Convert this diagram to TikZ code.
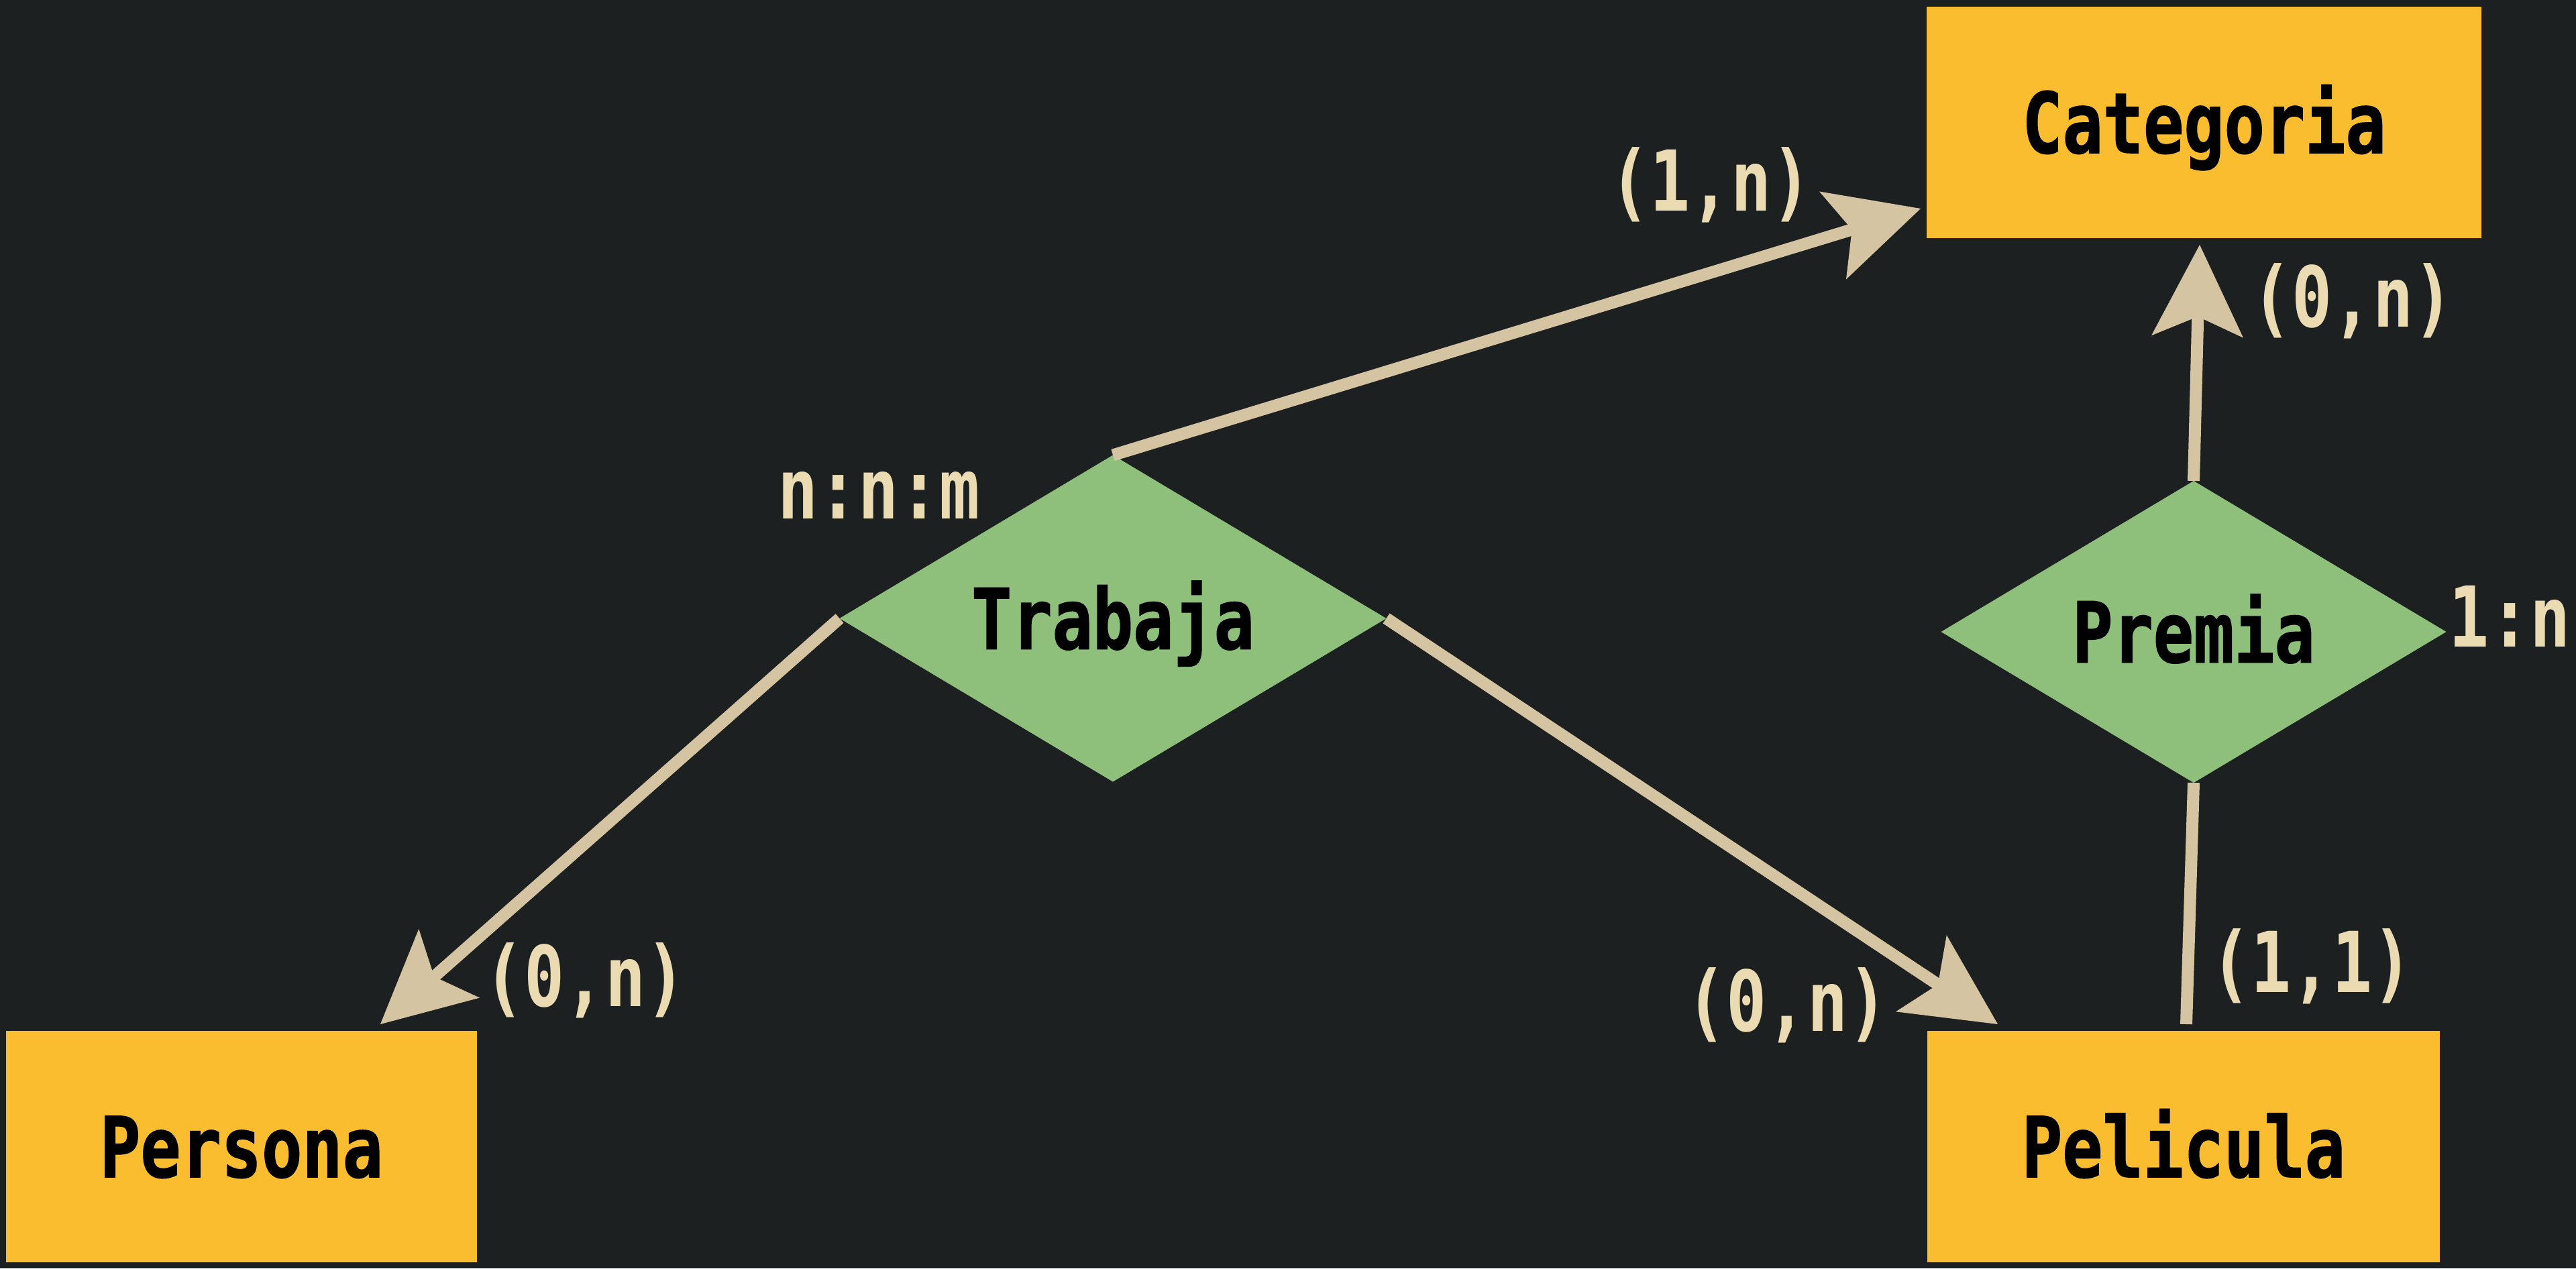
\documentclass[tikz,border=0pt]{standalone}
\usepackage{fontspec}
\setmonofont[FakeStretch=0.8]{DejaVu Sans Mono}
\newfontfamily\rotulo[FakeStretch=0.8, FakeBold=1.2]{DejaVu Sans Mono Bold}
\usetikzlibrary{shapes.geometric,arrows.meta}
\definecolor{fondo}{HTML}{1D2021}
\definecolor{amarillo}{HTML}{FABD2F}
\definecolor{verde}{HTML}{8EC07C}
\definecolor{linea}{HTML}{D5C4A1}
\definecolor{crema}{HTML}{EBDBB2}
\begin{document}
\begin{tikzpicture}[
            entidad/.style={rectangle, fill=amarillo, text=black, inner sep=0pt, outer sep=0pt,
                minimum height=3.45cm, text height=0.91cm, text depth=0pt,
                font=\rotulo\fontsize{35.6pt}{40pt}\selectfont},
            relacion/.style={diamond, fill=verde, text=black, inner sep=0pt, outer sep=0pt, aspect=1.67,
                text height=0.91cm, text depth=0pt,
                font=\rotulo\fontsize{35.6pt}{40pt}\selectfont},
            card/.style={anchor=base, inner sep=0pt, text=crema,
                font=\ttfamily\bfseries\fontsize{35.6pt}{40pt}\selectfont},
            conn/.style={draw=linea, line width=0.18cm},
            flecha/.style={conn, -{Stealth[length=1.37cm, width=1.37cm, inset=0.30cm, line width=0pt]}}
        ]
            \fill[fondo] (0,0) rectangle (38.4,-18.91);

            \node[entidad, minimum width=8.27cm] (categoria) at (32.855, -1.825) {Categoria};
            \node[entidad, minimum width=7.02cm] (persona) at (3.60, -17.095) {Persona};
            \node[entidad, minimum width=7.64cm] (pelicula) at (32.55, -17.095) {Pelicula};

            \node[relacion, minimum width=8.15cm, minimum height=4.87cm] (trabaja) at (16.59, -9.22) {Trabaja};
            \node[relacion, minimum width=7.53cm, minimum height=4.50cm] (premia) at (32.70, -9.42) {Premia};

            \draw[flecha] (trabaja.north) -- ([shift={(-0.09,0.44)}]categoria.south west);
            \draw[flecha] (trabaja.west) -- ([shift={(2.07,0.10)}]persona.north);
            \draw[flecha] (trabaja.east) -- ([shift={(1.05,0.10)}]pelicula.north west);
            \draw[flecha] (premia.north) -- ([shift={(-0.065,-0.10)}]categoria.south);
            \draw[conn] (premia.south) -- ([shift={(0.04,0.10)}]pelicula.north);

            \node[card] (c1) at (25.50, -3.14) {(1,n)};
            \node[card] (c2) at (35.07, -4.87) {(0,n)};
            \node[card] (c3) at (13.10, -7.73) {n:n:m};
            \node[card, anchor=base west] (c4) at (36.50, -9.64) {1:n};
            \node[card] (c5) at (8.72, -15.00) {(0,n)};
            \node[card] (c6) at (26.64, -15.37) {(0,n)};
            \node[card] (c7) at (34.46, -14.79) {(1,1)};
        \end{tikzpicture}
\end{document}
